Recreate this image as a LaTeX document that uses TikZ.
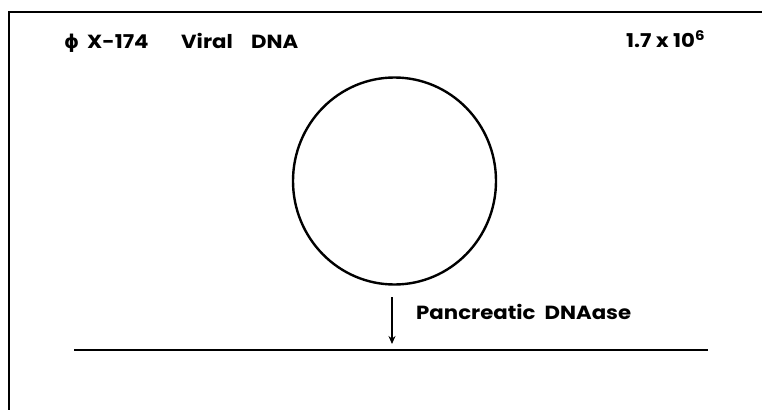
\documentclass[tikz,border=0pt]{standalone}
\usepackage{fontspec}
\setmainfont{Poppins}[FakeStretch=1.12]
\newfontfamily\phifont{DejaVu Sans}
\usetikzlibrary{arrows.meta,shapes.geometric}
\begin{document}
\begin{tikzpicture}[x=1pt,y=-1pt,
  lbl/.style={inner sep=0pt,anchor=base west,font=\bfseries\fontsize{19}{22}\selectfont},
  ln/.style={line width=2.4pt}]
\useasboundingbox (0,0) rectangle (762,410);
\coordinate (tl) at (9,12);
\coordinate (tr) at (762,12);
\coordinate (bl) at (9,410);
\draw[line width=1.8pt] (tr) -- (tl) -- (bl);
\node[lbl] (title) at (64,48) {\makebox[23pt][l]{\phifont ϕ}\makebox[94pt][l]{X-174}\makebox[70pt][l]{Viral}DNA};
\node[lbl] (mw) at (626,47) {1.7 x 10\textsuperscript{6}};
\node[draw,ellipse,ln,minimum width=203pt,minimum height=207pt,inner sep=0pt] (dna) at (394.5,181) {};
\coordinate (a1) at (392,297);
\coordinate (a2) at (392,344);
\draw[line width=1.4pt,-{Stealth[length=8pt,width=7pt]}] (a1) -- (a2);
\node[lbl] (enz) at (416,319) {Pancreatic\ \ DNAase};
\coordinate (l1) at (74,350);
\coordinate (l2) at (708,350);
\draw[ln] (l1) -- (l2);
\end{tikzpicture}
\end{document}
